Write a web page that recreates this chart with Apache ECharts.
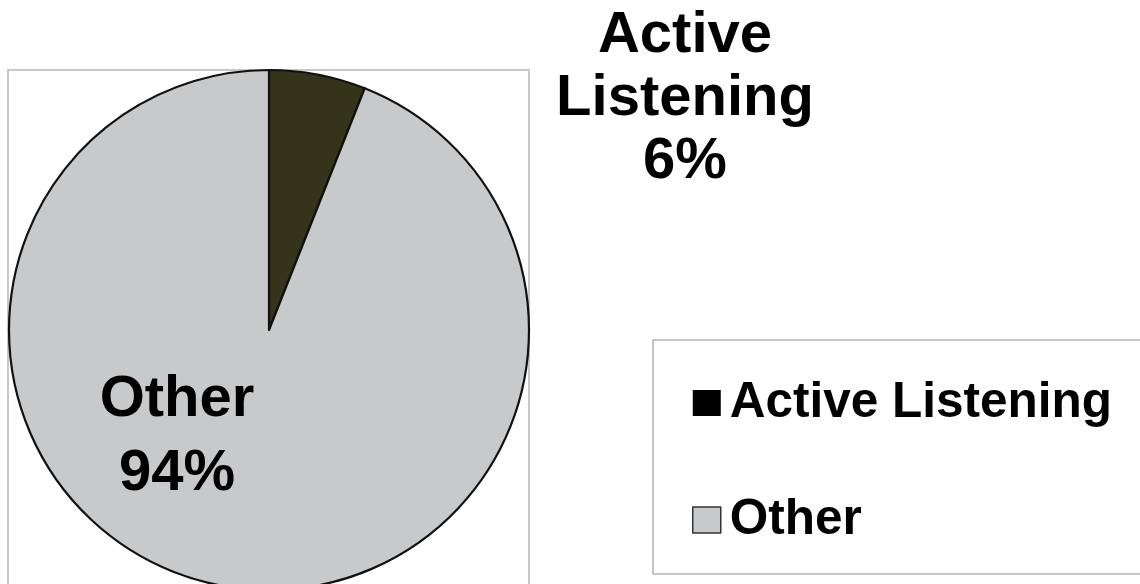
<!DOCTYPE html>
<html>
<head>
<meta charset="utf-8">
<script src="https://cdn.jsdelivr.net/npm/echarts@6/dist/echarts.min.js"></script>
<style>
html,body{margin:0;padding:0;background:#fff;}
#chart{width:1140px;height:584px;}
</style>
</head>
<body>
<div id="chart"></div>
<script>
var categories = ['Active Listening', 'Other'];
var values = [6, 94];
var sliceColors = ['#34341b', '#c8c9cb'];
var legendIconColors = ['#000000', '#c8c9cb'];

var FONT = '"Liberation Sans", Arial, sans-serif';

var chart = echarts.init(document.getElementById('chart'), null, {renderer: 'canvas'});

var data = categories.map(function (c, i) {
  return {name: c, value: values[i], itemStyle: {color: sliceColors[i]}};
});

var labelPos = [
  {x: 685, y: 99, lh: 63},
  {x: 177, y: 437, lh: 74}
];

chart.setOption({
  animation: false,
  backgroundColor: '#ffffff',
  graphic: [
    {type: 'rect', z: 0, shape: {x: 8, y: 70, width: 521, height: 600},
     style: {fill: 'none', stroke: '#c8c8c8', lineWidth: 2}},
    {type: 'rect', z: 0, shape: {x: 653, y: 340, width: 600, height: 234},
     style: {fill: '#fff', stroke: '#b4b4b4', lineWidth: 1.5}}
  ],
  legend: {
    orient: 'vertical',
    left: 692,
    top: 378,
    padding: 0,
    itemWidth: 28,
    itemHeight: 26,
    itemGap: 67,
    icon: 'rect',
    selectedMode: false,
    z: 5,
    textStyle: {fontFamily: FONT, fontWeight: 'bold', fontSize: 49.5, color: '#000', lineHeight: 50, padding: [0, 0, 0, 4]},
    data: categories.map(function (c, i) {
      return {name: c, itemStyle: {color: legendIconColors[i], borderColor: '#333', borderWidth: i === 1 ? 1.5 : 0}};
    })
  },
  series: [{
    type: 'pie',
    center: [269, 330],
    radius: 260,
    startAngle: 90,
    clockwise: true,
    avoidLabelOverlap: false,
    itemStyle: {borderColor: '#111', borderWidth: 2.2},
    emphasis: {disabled: true},
    labelLine: {show: false},
    label: {
      show: true,
      position: 'inside',
      formatter: function (p) {
        return p.name.replace(' ', '\n') + '\n' + p.value + '%';
      },
      fontFamily: FONT,
      fontWeight: 'bold',
      fontSize: 58,
      color: '#000',
      align: 'center'
    },
    labelLayout: function (params) {
      var lp = labelPos[params.dataIndex];
      return {x: lp.x, y: lp.y, align: 'center', verticalAlign: 'middle'};
    },
    data: data.map(function (d, i) {
      d.label = {lineHeight: labelPos[i].lh};
      return d;
    })
  }]
});
</script>
</body>
</html>
